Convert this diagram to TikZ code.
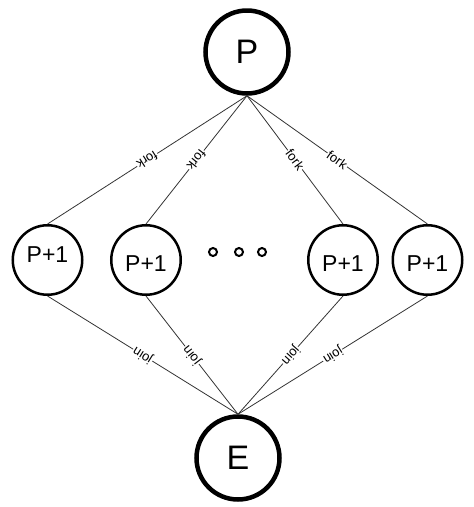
\documentclass[tikz,border=0pt]{standalone}
\usepackage{fontspec}
\setmainfont{Liberation Sans}
\begin{document}
\begin{tikzpicture}[x=1pt,y=-1pt,
  bignode/.style={circle,draw=black,line width=4.5pt,minimum size=83pt,inner sep=0pt,font=\fontsize{34}{34}\selectfont},
  childnode/.style={circle,draw=black,line width=2.5pt,minimum size=69.5pt,inner sep=0pt},
  childtxt/.style={inner sep=0pt,font=\fontsize{23}{23}\selectfont},
  dotnode/.style={circle,draw=black,line width=2pt,minimum size=8pt,inner sep=0pt},
  conn/.style={draw=black!80,line width=0.8pt},
  lab/.style={midway,sloped,allow upside down,fill=white,inner sep=1pt,font=\fontsize{13}{13}\selectfont}]
\useasboundingbox (0,0) rectangle (474,507);
\node[bignode] (P) at (247,52) {P};
\node[bignode] (E) at (238,458) {E};
\node[childnode] (c1) at (47.5,260) {};
\node[childnode] (c2) at (146,260) {};
\node[childnode] (c3) at (343,260) {};
\node[childnode] (c4) at (427.5,260) {};
\node[childtxt] (t1) at ([yshift=5pt]c1.center) {P+1};
\node[childtxt] (t2) at ([yshift=-4pt]c2.center) {P+1};
\node[childtxt] (t3) at ([yshift=-4pt]c3.center) {P+1};
\node[childtxt] (t4) at ([yshift=-4pt]c4.center) {P+1};
\node[dotnode] (d1) at (213,252) {};
\node[dotnode] (d2) at (239,252) {};
\node[dotnode] (d3) at (262,252) {};
\draw[conn] (P.south) -- node[lab] {fork} (c1.north);
\draw[conn] (P.south) -- node[lab] {fork} (c2.north);
\draw[conn] (P.south) -- node[lab] {fork} (c3.north);
\draw[conn] (P.south) -- node[lab] {fork} (c4.north);
\draw[conn] (E.north) -- node[lab] {join} (c1.south);
\draw[conn] (E.north) -- node[lab] {join} (c2.south);
\draw[conn] (c3.south) -- node[lab] {join} (E.north);
\draw[conn] (c4.south) -- node[lab] {join} (E.north);
\end{tikzpicture}
\end{document}
